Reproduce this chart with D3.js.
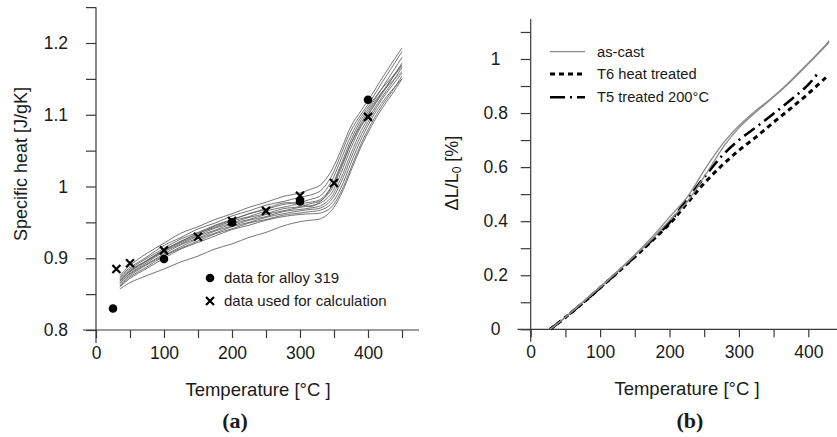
<!DOCTYPE html>
<html><head><meta charset="utf-8">
<script src="https://cdn.jsdelivr.net/npm/d3@7"></script>
<style>body{margin:0;background:#fff}svg{display:block}text{font-family:"Liberation Sans",Arial,sans-serif;fill:#1a1a1a}</style>
</head><body><svg id="c" width="837" height="437"></svg>
<script>
// ---------- Panel (a) data ----------
const tempA = [35,50,75,100,125,150,175,200,225,250,275,300,315,330,345,360,375,390,405,420,435,450];
const cpCurves = [
 [0.876,0.890,0.907,0.921,0.935,0.944,0.954,0.962,0.971,0.978,0.986,0.991,0.996,1.002,1.020,1.050,1.084,1.106,1.127,1.150,1.172,1.193],
 [0.874,0.887,0.902,0.918,0.929,0.941,0.949,0.959,0.966,0.974,0.979,0.985,0.988,0.994,1.012,1.044,1.078,1.101,1.121,1.144,1.166,1.188],
 [0.872,0.885,0.900,0.914,0.927,0.936,0.946,0.954,0.962,0.968,0.975,0.978,0.982,0.987,1.005,1.037,1.071,1.097,1.117,1.136,1.152,1.170],
 [0.870,0.883,0.897,0.912,0.923,0.935,0.943,0.952,0.958,0.966,0.971,0.976,0.978,0.982,0.998,1.030,1.065,1.093,1.114,1.136,1.158,1.180],
 [0.868,0.881,0.896,0.910,0.922,0.932,0.942,0.949,0.957,0.962,0.969,0.972,0.976,0.980,0.994,1.024,1.060,1.089,1.111,1.131,1.146,1.160],
 [0.866,0.879,0.894,0.909,0.920,0.931,0.939,0.948,0.954,0.961,0.966,0.971,0.973,0.977,0.989,1.018,1.054,1.084,1.107,1.128,1.150,1.172],
 [0.865,0.878,0.892,0.906,0.919,0.928,0.938,0.945,0.953,0.958,0.965,0.968,0.970,0.973,0.984,1.011,1.046,1.078,1.102,1.124,1.144,1.166],
 [0.863,0.876,0.891,0.904,0.916,0.927,0.935,0.944,0.950,0.957,0.962,0.966,0.968,0.970,0.980,1.005,1.040,1.072,1.098,1.121,1.140,1.158],
 [0.861,0.874,0.888,0.903,0.914,0.924,0.934,0.941,0.949,0.954,0.960,0.963,0.965,0.967,0.975,0.998,1.033,1.066,1.094,1.116,1.134,1.150],
 [0.860,0.872,0.886,0.900,0.913,0.922,0.931,0.940,0.946,0.953,0.958,0.961,0.962,0.963,0.970,0.992,1.026,1.060,1.088,1.112,1.132,1.154],
 [0.857,0.866,0.876,0.885,0.895,0.903,0.913,0.920,0.929,0.936,0.945,0.951,0.953,0.955,0.965,0.988,1.022,1.056,1.084,1.108,1.128,1.150],
 [0.869,0.882,0.897,0.911,0.924,0.934,0.945,0.953,0.962,0.969,0.977,0.976,0.972,0.979,0.997,1.027,1.060,1.086,1.108,1.130,1.150,1.168]
];
const alloyT = [25,100,200,300,400];
const alloyCp = [0.830,0.899,0.950,0.979,1.121];
const calcT = [30,50,100,150,200,250,300,350,400];
const calcCp = [0.885,0.893,0.911,0.930,0.952,0.966,0.987,1.005,1.097];
const ticksXA = [0,100,200,300,400];
const ticksYA = [0.8,0.9,1,1.1,1.2];
const legendA = ["data for alloy 319","data used for calculation"];

// ---------- Panel (b) data ----------
const asCastT  = [28,50,75,100,125,150,175,200,225,250,265,280,300,325,350,375,400,425,430];
const asCast1  = [0,0.045,0.100,0.157,0.215,0.276,0.342,0.415,0.487,0.588,0.645,0.697,0.753,0.810,0.862,0.921,0.985,1.052,1.068];
const asCast2  = [0,0.045,0.099,0.155,0.212,0.272,0.334,0.403,0.470,0.565,0.625,0.683,0.745,0.805,0.859,0.918,0.982,1.048,1.063];
const t6T      = [28,50,75,100,125,150,175,200,225,250,275,300,325,350,375,400,428];
const t6Val    = [0,0.044,0.097,0.153,0.210,0.268,0.328,0.390,0.465,0.540,0.605,0.662,0.712,0.766,0.818,0.872,0.938];
const t5T      = [28,50,75,100,125,150,175,200,225,250,275,300,325,350,375,400,415];
const t5Val    = [0,0.044,0.097,0.153,0.210,0.268,0.330,0.395,0.480,0.562,0.640,0.700,0.748,0.798,0.849,0.905,0.952];
const ticksXB = [0,100,200,300,400];
const ticksYB = [0,0.2,0.4,0.6,0.8,1];
const legendB = ["as-cast","T6 heat treated","T5 treated 200°C"];

const svg = d3.select("#c");
const AX = "#3a3a3a";
const fmt = v => (Math.round(v*10)/10).toString();

// ---------- Panel (a) ----------
const xA = d3.scaleLinear().domain([0,400]).range([96,368]);
const yA = d3.scaleLinear().domain([0.8,1.2]).range([330,43]);
const gA = svg.append("g");

const xAxisA = d3.axisBottom(xA).tickValues(d3.range(0,451,50)).tickSize(8).tickSizeOuter(0)
  .tickFormat(d => ticksXA.includes(d) ? d : "").tickPadding(15);
const gxA = gA.append("g").attr("transform",`translate(0,${yA(0.8)})`).call(xAxisA);
const yAxisA = d3.axisLeft(yA).tickValues(d3.range(0,10).map(i=>0.8+i*0.05)).tickSize(10).tickSizeOuter(0)
  .tickFormat(d => ticksYA.some(t=>Math.abs(t-d)<1e-6) ? fmt(d) : "").tickPadding(18);
const gyA = gA.append("g").attr("transform",`translate(${xA(0)},0)`).call(yAxisA);
[gxA,gyA].forEach(g=>{g.select(".domain").remove();g.selectAll("line").attr("stroke",AX).attr("stroke-width",1.2);
  g.selectAll("text").attr("font-size",17.5).attr("fill","#1a1a1a").attr("font-family","Liberation Sans, Arial, sans-serif");});
gxA.selectAll("text").attr("dy","0.35em");
gA.append("line").attr("x1",xA(-19)).attr("x2",xA(475)).attr("y1",yA(0.8)).attr("y2",yA(0.8)).attr("stroke",AX).attr("stroke-width",1.2);
gA.append("line").attr("x1",xA(0)).attr("x2",xA(0)).attr("y1",yA(0.782)).attr("y2",yA(1.25)).attr("stroke",AX).attr("stroke-width",1.2);

const lineA = d3.line().x((d,i)=>xA(tempA[i])).y(d=>yA(d)).curve(d3.curveCatmullRom);
gA.selectAll("path.cp").data(cpCurves).enter().append("path").attr("class","cp")
  .attr("d",lineA).attr("fill","none").attr("stroke","#5c5c5c").attr("stroke-width",0.85);

gA.selectAll("circle.al").data(alloyT).enter().append("circle").attr("class","al")
  .attr("cx",d=>xA(d)).attr("cy",(d,i)=>yA(alloyCp[i])).attr("r",4.3).attr("fill","#000");
const cross = (g,x,y)=>{g.append("path").attr("d",`M${x-4},${y-4}L${x+4},${y+4}M${x-4},${y+4}L${x+4},${y-4}`)
  .attr("stroke","#000").attr("stroke-width",2.2);};
calcT.forEach((t,i)=>cross(gA,xA(t),yA(calcCp[i])));

// legend a
gA.append("circle").attr("cx",210).attr("cy",278).attr("r",4.3).attr("fill","#000");
cross(gA,210,301);
gA.append("text").attr("x",224).attr("y",278).attr("dy","0.35em").attr("font-size",15).text(legendA[0]);
gA.append("text").attr("x",224).attr("y",301).attr("dy","0.35em").attr("font-size",15).text(legendA[1]);

gA.append("text").attr("x",258).attr("y",390).attr("dy","0.35em").attr("text-anchor","middle").attr("font-size",18.5).text("Temperature [°C ]");
gA.append("text").attr("transform","translate(21,164) rotate(-90)").attr("dy","0.35em").attr("text-anchor","middle").attr("font-size",18).text("Specific heat [J/gK]");
gA.append("text").attr("x",235).attr("y",420).attr("dy","0.35em").attr("text-anchor","middle")
  .attr("font-size",22).attr("font-weight","bold").style("font-family","Liberation Serif, Times New Roman, serif").text("(a)");

// ---------- Panel (b) ----------
const xB = d3.scaleLinear().domain([0,400]).range([530.7,808.3]);
const yB = d3.scaleLinear().domain([0,1]).range([329.3,59]);
const gB = svg.append("g");
const xAxisB = d3.axisBottom(xB).tickValues(d3.range(0,401,50)).tickSize(8).tickSizeOuter(0)
  .tickFormat(d => ticksXB.includes(d) ? d : "").tickPadding(15);
const gxB = gB.append("g").attr("transform",`translate(0,${yB(0)})`).call(xAxisB);
const yAxisB = d3.axisLeft(yB).tickValues(d3.range(0,12).map(i=>i*0.1)).tickSize(10).tickSizeOuter(0)
  .tickFormat(d => ticksYB.some(t=>Math.abs(t-d)<1e-6) ? fmt(d) : "").tickPadding(25);
const gyB = gB.append("g").attr("transform",`translate(${xB(0)},0)`).call(yAxisB);
[gxB,gyB].forEach(g=>{g.select(".domain").remove();g.selectAll("line").attr("stroke",AX).attr("stroke-width",1.2);
  g.selectAll("text").attr("font-size",17.5).attr("fill","#1a1a1a").attr("font-family","Liberation Sans, Arial, sans-serif");});
gxB.selectAll("text").attr("dy","0.35em");
gyB.selectAll("text").attr("text-anchor","middle");
gB.append("line").attr("x1",xB(-19)).attr("x2",837).attr("y1",yB(0)).attr("y2",yB(0)).attr("stroke",AX).attr("stroke-width",1.2);
gB.append("line").attr("x1",xB(0)).attr("x2",xB(0)).attr("y1",yB(-0.046)).attr("y2",yB(1.148)).attr("stroke",AX).attr("stroke-width",1.2);

const mk = (T)=>d3.line().x((d,i)=>xB(T[i])).y(d=>yB(d)).curve(d3.curveCatmullRom);
gB.append("path").attr("d",mk(t6T)(t6Val)).attr("fill","none").attr("stroke","#000").attr("stroke-width",3).attr("stroke-dasharray","5,4");
gB.append("path").attr("d",mk(t5T)(t5Val)).attr("fill","none").attr("stroke","#000").attr("stroke-width",2.6).attr("stroke-dasharray","13,5,2,5");
gB.append("path").attr("d",mk(asCastT)(asCast1)).attr("fill","none").attr("stroke","#8a8a8a").attr("stroke-width",1.3);
gB.append("path").attr("d",mk(asCastT)(asCast2)).attr("fill","none").attr("stroke","#8a8a8a").attr("stroke-width",1.3);

// legend b
const ly = [51.7,74,97.3];
gB.append("line").attr("x1",550).attr("x2",585).attr("y1",ly[0]).attr("y2",ly[0]).attr("stroke","#8a8a8a").attr("stroke-width",1.3);
gB.append("line").attr("x1",550).attr("x2",585).attr("y1",ly[1]).attr("y2",ly[1]).attr("stroke","#000").attr("stroke-width",3).attr("stroke-dasharray","5,4");
gB.append("line").attr("x1",550).attr("x2",585).attr("y1",ly[2]).attr("y2",ly[2]).attr("stroke","#000").attr("stroke-width",2.6).attr("stroke-dasharray","15,5,2,5,8");
legendB.forEach((t,i)=>gB.append("text").attr("x",597).attr("y",ly[i]).attr("dy","0.35em").attr("font-size",14.7).text(t));

gB.append("text").attr("x",687).attr("y",389).attr("dy","0.35em").attr("text-anchor","middle").attr("font-size",18.5).text("Temperature [°C ]");
const yt = gB.append("text").attr("transform","translate(452,173) rotate(-90)").attr("dy","0.35em").attr("text-anchor","middle").attr("font-size",18);
yt.append("tspan").text("ΔL/L");
yt.append("tspan").attr("font-size",12).attr("baseline-shift","-25%").text("0");
yt.append("tspan").text(" [%]");
gB.append("text").attr("x",690).attr("y",420).attr("dy","0.35em").attr("text-anchor","middle")
  .attr("font-size",22).attr("font-weight","bold").style("font-family","Liberation Serif, Times New Roman, serif").text("(b)");
</script></body></html>
